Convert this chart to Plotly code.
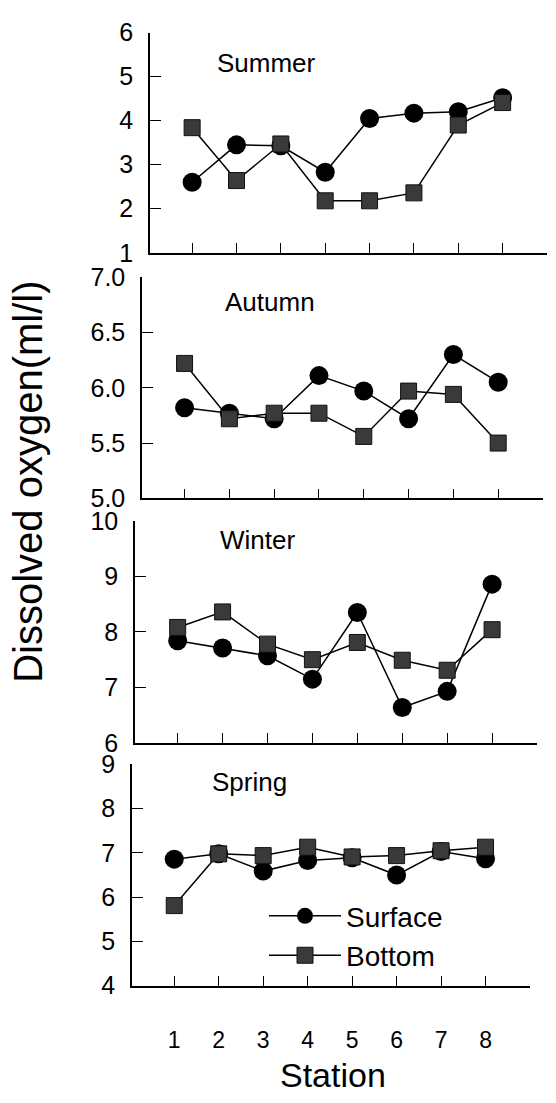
import plotly.graph_objects as go

stations = [1, 2, 3, 4, 5, 6, 7, 8]
seasons = ["Summer", "Autumn", "Winter", "Spring"]

summer_surface = [2.60, 3.45, 3.43, 2.83, 4.05, 4.17, 4.20, 4.52]
summer_bottom = [3.84, 2.64, 3.47, 2.18, 2.18, 2.36, 3.90, 4.41]
autumn_surface = [5.82, 5.77, 5.72, 6.11, 5.97, 5.72, 6.30, 6.05]
autumn_bottom = [6.22, 5.72, 5.77, 5.77, 5.56, 5.97, 5.94, 5.50]
winter_surface = [7.84, 7.71, 7.57, 7.15, 8.35, 6.64, 6.93, 8.86]
winter_bottom = [8.08, 8.36, 7.78, 7.50, 7.81, 7.49, 7.31, 8.04]
spring_surface = [6.86, 6.98, 6.59, 6.83, 6.89, 6.50, 7.03, 6.87]
spring_bottom = [5.81, 6.98, 6.94, 7.13, 6.91, 6.94, 7.05, 7.13]

y_ranges = [[1, 6], [5, 7], [6, 10], [4, 9]]
y_ticks = [[1, 2, 3, 4, 5, 6], [5.0, 5.5, 6.0, 6.5, 7.0], [6, 7, 8, 9, 10], [4, 5, 6, 7, 8, 9]]
x_tickvals = [1, 2, 3, 4, 5, 6, 7, 8, 9]
x_ticktext = ["1", "2", "3", "4", "5", "6", "7", "8", ""]

surface_data = [summer_surface, autumn_surface, winter_surface, spring_surface]
bottom_data = [summer_bottom, autumn_bottom, winter_bottom, spring_bottom]

W, H = 556, 1103
# panel pixel boxes (left, right, top, bottom)
boxes = [(150, 547, 19, 245), (142, 543, 270, 497), (135, 537, 520, 748), (132, 530, 770, 997)]
title_pos = [(215, 50), (223, 296), (218, 540), (210, 788)]

FONT = "Liberation Sans, Arial, sans-serif"

fig = go.Figure()
for i in range(4):
    xa = "x" if i == 0 else f"x{i+1}"
    ya = "y" if i == 0 else f"y{i+1}"
    last = i == 3
    fig.add_trace(go.Scatter(
        x=stations, y=surface_data[i], xaxis=xa, yaxis=ya, mode="lines+markers",
        name="Surface", legendgroup="s", showlegend=last,
        line=dict(color="black", width=1.5),
        marker=dict(symbol="circle", size=19, color="black"),
    ))
    fig.add_trace(go.Scatter(
        x=stations, y=bottom_data[i], xaxis=xa, yaxis=ya, mode="lines+markers",
        name="Bottom", legendgroup="b", showlegend=last,
        line=dict(color="black", width=1.5),
        marker=dict(symbol="square", size=16, color="#3a3a3a", line=dict(color="#111", width=1)),
    ))

layout = dict(
    width=W, height=H, margin=dict(l=0, r=0, t=0, b=0),
    paper_bgcolor="white", plot_bgcolor="white",
    font=dict(family=FONT, color="black"),
    showlegend=True,
    legend=dict(x=264 / W, y=1 - 900 / H, xanchor="left", yanchor="top",
                font=dict(size=28, family=FONT), bgcolor="rgba(0,0,0,0)",
                itemwidth=72, tracegroupgap=0),
)
annotations = []
for i in range(4):
    l, r, t, b = boxes[i]
    xk = "xaxis" if i == 0 else f"xaxis{i+1}"
    yk = "yaxis" if i == 0 else f"yaxis{i+1}"
    ya = "y" if i == 0 else f"y{i+1}"
    xa = "x" if i == 0 else f"x{i+1}"
    layout[xk] = dict(
        domain=[l / W, r / W], range=[0.05, 9], anchor=ya,
        showline=True, linecolor="black", linewidth=1.5,
        ticks="inside", ticklen=10, tickwidth=1.3, tickcolor="black",
        tickvals=x_tickvals, ticktext=x_ticktext, showticklabels=(i == 3),
        tickfont=dict(size=23, family=FONT), ticklabelstandoff=33,
        showgrid=False, zeroline=False,
    )
    layout[yk] = dict(
        domain=[1 - b / H, 1 - t / H], range=y_ranges[i], anchor=xa,
        showline=True, linecolor="black", linewidth=1.5,
        ticks="inside", ticklen=11, tickwidth=1.3, tickcolor="black",
        tickvals=y_ticks[i], tickformat=".1f" if i == 1 else "d",
        tickfont=dict(size=25, family=FONT), ticklabelstandoff=10,
        showgrid=False, zeroline=False,
    )
    tx, ty = title_pos[i]
    annotations.append(dict(text=seasons[i], x=tx / W, y=1 - ty / H, xref="paper", yref="paper",
                            xanchor="left", yanchor="middle", showarrow=False,
                            font=dict(size=26, family=FONT)))

annotations.append(dict(text="Station", x=333 / W, y=1 - 1089 / H, xref="paper", yref="paper",
                        xanchor="center", yanchor="middle", showarrow=False,
                        font=dict(size=34, family=FONT)))
annotations.append(dict(text="Dissolved oxygen(ml/l)", x=28 / W, y=1 - 480 / H, xref="paper", yref="paper",
                        xanchor="center", yanchor="middle", showarrow=False, textangle=-90,
                        font=dict(size=40, family=FONT)))
layout["annotations"] = annotations
fig.update_layout(**layout)
fig.write_html("out.html")
